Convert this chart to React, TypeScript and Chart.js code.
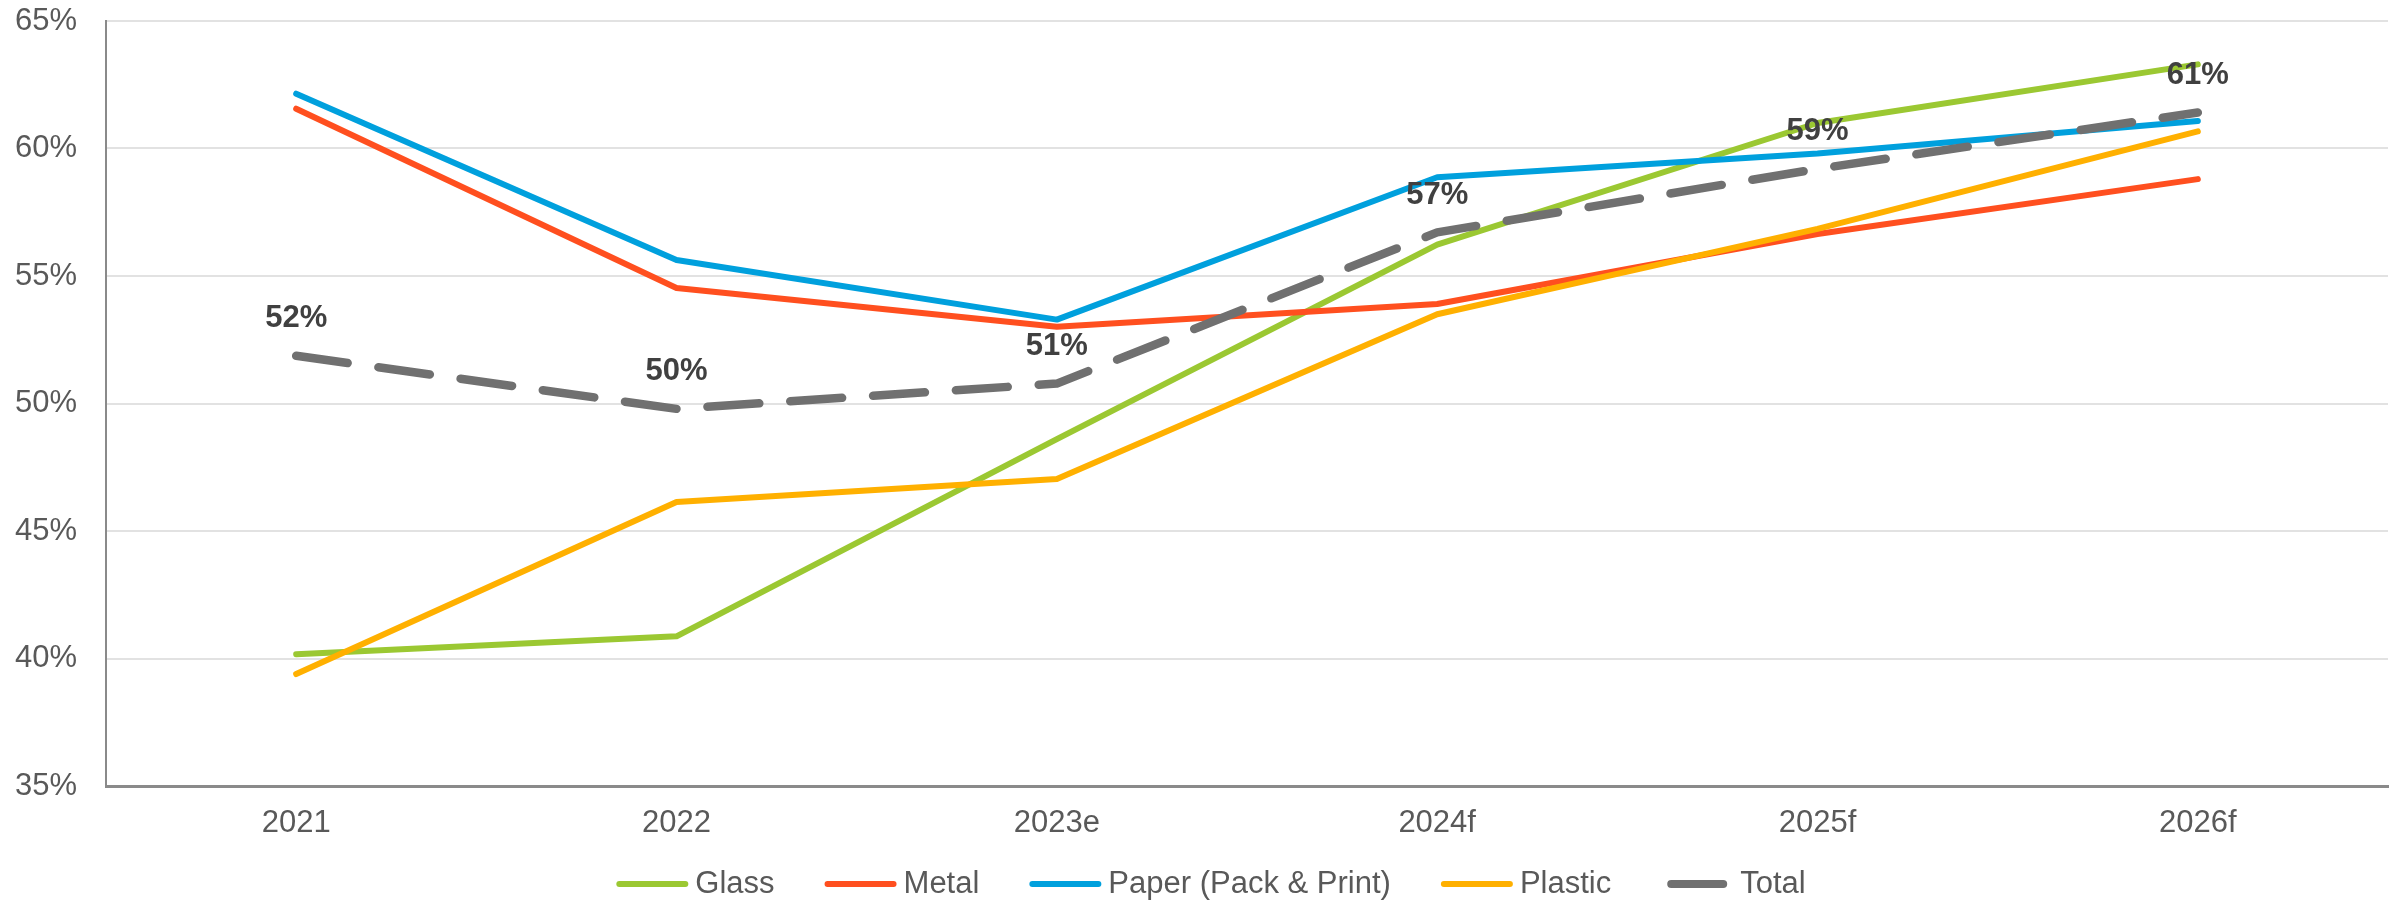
import { useEffect, useRef } from "react";
import { Chart, registerables } from "chart.js";

Chart.register(...registerables);

// Share of packaging, by material, 2021–2026 (e = estimate, f = forecast)
const years = ["2021", "2022", "2023e", "2024f", "2025f", "2026f"];
const glass = [40.17, 40.87, 48.6, 56.23, 61.0, 63.3];
const metal = [61.56, 54.53, 53.01, 53.9, 56.65, 58.8];
const paper = [62.15, 55.63, 53.29, 58.87, 59.8, 61.08];
const plastic = [39.39, 46.14, 47.04, 53.5, 56.85, 60.67];
const total = [51.87, 49.79, 50.78, 56.71, 59.2, 61.41];

const yMin = 35;
const yMax = 65;
const yStep = 5;

const FONT = '"Liberation Sans", Arial, Helvetica, sans-serif';
const TICK_COLOR = "#595959";
const LABEL_COLOR = "#404040";
const TEXT_SIZE = 31;

const COLORS = {
  glass: "#9BC832",
  metal: "#FF4F1F",
  paper: "#00A0DD",
  plastic: "#FFB000",
  total: "#707070",
};

// Percentage labels above each point of the Total series
const totalLabelPlugin = {
  id: "totalLabels",
  afterDatasetsDraw(chart: any) {
    const idx = chart.data.datasets.findIndex((d: any) => d.label === "Total");
    if (idx < 0) return;
    const meta = chart.getDatasetMeta(idx);
    const ctx = chart.ctx;
    ctx.save();
    ctx.font = `bold 31px ${FONT}`;
    ctx.fillStyle = LABEL_COLOR;
    ctx.textAlign = "center";
    ctx.textBaseline = "middle";
    meta.data.forEach((pt: any, i: number) => {
      const v = chart.data.datasets[idx].data[i] as number;
      ctx.fillText(`${Math.round(v)}%`, pt.x, pt.y - 37);
    });
    ctx.restore();
  },
};

// Horizontal legend along the bottom edge
const bottomLegendPlugin = {
  id: "bottomLegend",
  afterDraw(chart: any) {
    const ctx = chart.ctx;
    const items = [...chart.data.datasets].sort((a: any, b: any) => a.legendIndex - b.legendIndex);
    const lineLen = 72;
    const textGap = 7;
    const itemGap = 50;
    const cy = 884;
    const centerX = 1211;
    ctx.save();
    ctx.font = `${TEXT_SIZE}px ${FONT}`;
    const widths = items.map((d: any) => lineLen + textGap + ctx.measureText(d.label).width);
    const full = widths.reduce((a: number, b: number) => a + b, 0) + itemGap * (items.length - 1);
    let x = centerX - full / 2;
    items.forEach((d: any, i: number) => {
      ctx.strokeStyle = d.borderColor;
      ctx.lineCap = "round";
      ctx.setLineDash([]);
      ctx.beginPath();
      if (d.borderDash && d.borderDash.length) {
        ctx.lineWidth = 8;
        ctx.moveTo(x + 10, cy);
        ctx.lineTo(x + lineLen - 10, cy);
      } else {
        ctx.lineWidth = 6;
        ctx.moveTo(x + 3, cy);
        ctx.lineTo(x + lineLen - 3, cy);
      }
      ctx.stroke();
      ctx.fillStyle = TICK_COLOR;
      ctx.textAlign = "left";
      ctx.textBaseline = "middle";
      ctx.fillText(d.label, x + lineLen + textGap, cy);
      x += widths[i] + itemGap;
    });
    ctx.restore();
  },
};

export default function App() {
  const canvasRef = useRef<HTMLCanvasElement | null>(null);

  useEffect(() => {
    if (!canvasRef.current) return;
    const line = (label: string, data: number[], color: string, order: number, legendIndex: number, dashed = false) => ({
      label,
      data,
      borderColor: color,
      backgroundColor: color,
      borderWidth: dashed ? 8.5 : 6,
      borderDash: dashed ? [52, 31] : [],
      borderCapStyle: "round",
      borderJoinStyle: "round",
      pointRadius: 0,
      pointHoverRadius: 0,
      tension: 0,
      fill: false,
      order,
      legendIndex,
    });

    const chart = new Chart(canvasRef.current, {
      type: "line",
      data: {
        labels: years,
        datasets: [
          line("Glass", glass, COLORS.glass, 4, 0),
          line("Metal", metal, COLORS.metal, 3, 1),
          line("Paper (Pack & Print)", paper, COLORS.paper, 2, 2),
          line("Plastic", plastic, COLORS.plastic, 1, 3),
          line("Total", total, COLORS.total, 0, 4, true),
        ] as any,
      },
      options: {
        animation: false,
        responsive: true,
        maintainAspectRatio: false,
        layout: { padding: { left: 0, right: 9, top: 21, bottom: 0 } },
        plugins: {
          legend: { display: false },
          tooltip: { enabled: false },
        },
        scales: {
          x: {
            offset: true,
            grid: { display: false, drawTicks: false },
            border: { display: true, color: "#8a8a8a", width: 3 },
            ticks: {
              color: TICK_COLOR,
              font: { family: FONT, size: TEXT_SIZE },
              padding: 19,
              maxRotation: 0,
            },
            afterFit: (scale: any) => {
              scale.height = 115;
              scale.paddingLeft = 0;
              scale.paddingRight = 0;
            },
          },
          y: {
            min: yMin,
            max: yMax,
            grid: { color: "#e2e2e2", lineWidth: 2, drawTicks: false },
            border: { display: true, color: "#8a8a8a", width: 2 },
            ticks: {
              stepSize: yStep,
              color: TICK_COLOR,
              font: { family: FONT, size: TEXT_SIZE },
              padding: 29,
              callback: (v: any) => `${v}%`,
            },
            afterFit: (scale: any) => {
              scale.width = 106;
              scale.paddingTop = 0;
              scale.paddingBottom = 0;
            },
          },
        },
      } as any,
      plugins: [totalLabelPlugin, bottomLegendPlugin],
    });
    return () => chart.destroy();
  }, []);

  return (
    <div style={{ position: "fixed", left: 0, top: 0, width: 2397, height: 901, background: "#ffffff" }}>
      <canvas ref={canvasRef} />
    </div>
  );
}
